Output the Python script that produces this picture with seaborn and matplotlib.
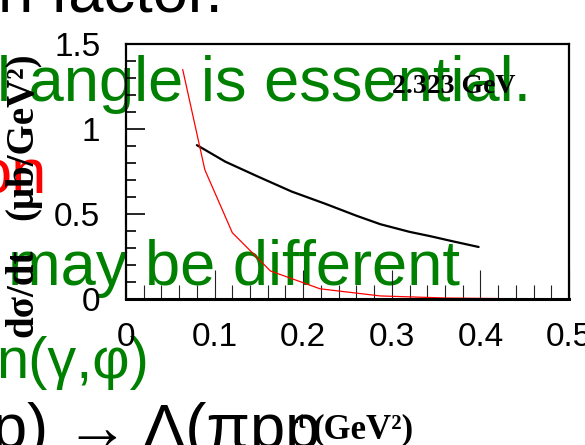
import matplotlib
matplotlib.use("Agg")
import matplotlib.pyplot as plt
import seaborn as sns
import pandas as pd
from matplotlib.ticker import FixedLocator, MultipleLocator

# Cross-section curves, dsigma/dt versus -t
black_t = [0.080, 0.090, 0.112, 0.149, 0.187, 0.225, 0.260, 0.287, 0.320, 0.343, 0.370, 0.398]
black_sigma = [0.905, 0.875, 0.808, 0.720, 0.632, 0.560, 0.490, 0.440, 0.395, 0.370, 0.338, 0.306]
red_t = [0.064, 0.089, 0.120, 0.163, 0.219, 0.287, 0.360, 0.430, 0.500]
red_sigma = [1.35, 0.76, 0.39, 0.165, 0.060, 0.018, 0.006, 0.002, 0.001]

x_ticks = [0.0, 0.1, 0.2, 0.3, 0.4, 0.5]
x_tick_labels = ["0", "0.1", "0.2", "0.3", "0.4", "0.5"]
y_ticks = [0.0, 0.5, 1.0, 1.5]
y_tick_labels = ["0", "0.5", "1", "1.5"]
energy_label = "2.323 GeV"

# Slide lines that sit behind the plot: (text, colour, x px, baseline px, size pt)
slide_lines = [
    ("n factor.", "black", -2, 11, 45.5),
    ("l angle is essential.", "green", -3, 101, 45.5),
    ("on", "red", -24, 193, 45.5),
    ("may be different", "green", 8, 285, 45.5),
    ("n(γ,φ)", "green", -4, 378, 41.5),
    ("p) → Λ(πpp", "black", -8, 448, 45.5),
]

sns.set_theme(style="white")
plt.rcParams["font.family"] = ["Liberation Sans", "DejaVu Sans"]

W, H, DPI = 585, 445, 100
fig = plt.figure(figsize=(W / DPI, H / DPI), dpi=DPI)
fig.patch.set_facecolor("white")


def fx(px):
    return px / W


def fy(py):
    return 1 - py / H


for txt, col, x, y, size in slide_lines:
    fig.text(fx(x), fy(y), txt, color=col, fontsize=size, ha="left", va="baseline",
             family=["Liberation Sans", "DejaVu Sans"], zorder=0.5)

ax = fig.add_axes([fx(126), fy(299), (569 - 126) / W, (299 - 44) / H])
ax.set_facecolor("none")
ax.set_zorder(1)

curves = pd.DataFrame({
    "t": black_t + red_t,
    "sigma": black_sigma + red_sigma,
    "curve": ["black"] * len(black_t) + ["red"] * len(red_t),
})
sns.lineplot(data=curves[curves.curve == "black"], x="t", y="sigma", color="black",
             linewidth=1.6, sort=False, estimator=None, ax=ax)
sns.lineplot(data=curves[curves.curve == "red"], x="t", y="sigma", color="red",
             linewidth=0.9, sort=False, estimator=None, ax=ax)

ax.set_xlim(0, 0.5)
ax.set_ylim(0, 1.5)
ax.set_xlabel("")
ax.set_ylabel("")

ax.xaxis.set_major_locator(FixedLocator(x_ticks))
ax.set_xticklabels(x_tick_labels)
ax.yaxis.set_major_locator(FixedLocator(y_ticks))
ax.set_yticklabels(y_tick_labels)
ax.xaxis.set_minor_locator(MultipleLocator(0.02))
ax.yaxis.set_minor_locator(MultipleLocator(0.1))

ax.tick_params(axis="x", which="major", direction="in", length=21, width=0.8,
               color="#222222", bottom=True, top=False, pad=16.5, labelsize=24)
ax.tick_params(axis="x", which="minor", direction="in", length=10, width=0.8,
               color="#222222", bottom=True, top=False)
ax.tick_params(axis="y", which="major", direction="in", length=13.7, width=1.2,
               color="black", left=True, right=False, pad=18.5, labelsize=24)
ax.tick_params(axis="y", which="minor", direction="in", length=7.2, width=1.2,
               color="black", left=True, right=False)
for lab in ax.get_xticklabels() + ax.get_yticklabels():
    lab.set_color("black")

for side, lw in [("left", 1.6), ("bottom", 2.2), ("top", 1.6), ("right", 1.6)]:
    ax.spines[side].set_visible(True)
    ax.spines[side].set_color("black")
    ax.spines[side].set_linewidth(lw)

serif_bold = dict(family=["Liberation Serif", "DejaVu Serif"], weight="bold", color="black")

# Energy annotation inside the frame
fig.text(fx(392), fy(93), energy_label, fontsize=20, ha="left", va="baseline",
         zorder=5, **serif_bold)

# Vertical axis title along the left edge
fig.text(fx(32), fy(337), "dσ/dt", fontsize=28, rotation=90, rotation_mode="anchor",
         ha="left", va="baseline", zorder=5, **serif_bold)
fig.text(fx(32), fy(220), "(μb/GeV²)", fontsize=28, rotation=90, rotation_mode="anchor",
         ha="left", va="baseline", zorder=5, **serif_bold)

# Horizontal axis title
fig.text(fx(290), fy(428), "-t", fontsize=17, ha="left", va="baseline", zorder=5, **serif_bold)
fig.text(fx(312), fy(438), "(GeV²)", fontsize=25, ha="left", va="baseline", zorder=5, **serif_bold)

fig.savefig("out.png", dpi=DPI, facecolor="white")
